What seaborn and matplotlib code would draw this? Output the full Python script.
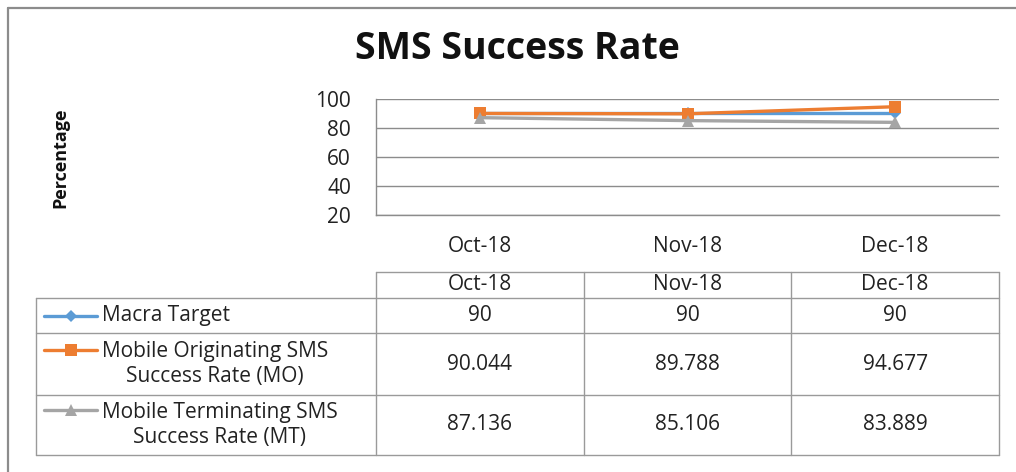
import matplotlib.pyplot as plt
import pandas as pd
import seaborn as sns


# =========================================================
# DATA
# =========================================================

months = ["Oct-18", "Nov-18", "Dec-18"]

series_names = [
    "Macra Target",
    "Mobile Originating SMS Success Rate (MO)",
    "Mobile Terminating SMS Success Rate (MT)",
]

row_labels = [
    "Macra Target",
    "Mobile Originating SMS\nSuccess Rate (MO)",
    "Mobile Terminating SMS\nSuccess Rate (MT)",
]

macra_target = [90, 90, 90]
mo_rate = [90.044, 89.788, 94.677]
mt_rate = [87.136, 85.106, 83.889]

table_text = [
    ["90", "90", "90"],
    ["90.044", "89.788", "94.677"],
    ["87.136", "85.106", "83.889"],
]

y_ticks = [20, 40, 60, 80, 100]


# =========================================================
# STYLE
# =========================================================

sns.set_style("white")
plt.rcParams["font.family"] = ["Open Sans", "DejaVu Sans"]

colors = ["#5B9BD5", "#ED7D31", "#A5A5A5"]
markers = ["D", "s", "^"]
marker_sizes = [6, 8, 8]
grid_color = "#8C8C8C"
text_color = "#222222"
body_size = 15

W, H = 1016, 472

df = pd.DataFrame({
    "month": months * 3,
    "value": macra_target + mo_rate + mt_rate,
    "series": [s for s in series_names for _ in months],
})


# =========================================================
# FIGURE
# =========================================================

fig = plt.figure(figsize=(W / 100, H / 100), dpi=100)

# overlay axes in pixel coordinates (frame + data table)
bg = fig.add_axes([0, 0, 1, 1])
bg.set_xlim(0, W)
bg.set_ylim(H, 0)
bg.axis("off")

# outer chart frame (only top/left visible in the crop)
bg.plot([8, W], [8, 8], color="#8C8C8C", lw=1.6)
bg.plot([8, 8], [8, H], color="#8C8C8C", lw=1.6)

# plot area
px0, px1, py0, py1 = 376, 999, 99, 215
ax = fig.add_axes([px0 / W, 1 - py1 / H, (px1 - px0) / W, (py1 - py0) / H])

for name, color, marker, ms in zip(series_names, colors, markers, marker_sizes):
    sns.lineplot(
        data=df[df["series"] == name],
        x="month",
        y="value",
        color=color,
        marker=marker,
        markersize=ms,
        markeredgewidth=0,
        linewidth=2.4,
        sort=False,
        ax=ax,
    )

ax.set_xlim(-0.5, len(months) - 0.5)
ax.set_ylim(20, 100)
ax.set_yticks(y_ticks)
ax.grid(axis="y", color=grid_color, linewidth=1)
ax.set_axisbelow(True)
for side in ["top", "right"]:
    ax.spines[side].set_visible(False)
for side in ["left", "bottom"]:
    ax.spines[side].set_color(grid_color)
    ax.spines[side].set_linewidth(1)
ax.tick_params(axis="y", length=0, pad=18, labelsize=body_size,
               labelcolor=text_color)
ax.tick_params(axis="x", length=0, pad=15, labelsize=body_size,
               labelcolor=text_color)
ax.set_xlabel("")
ax.set_ylabel("")

fig.text(517 / W, 1 - 49 / H, "SMS Success Rate", ha="center", va="center",
         fontsize=27, fontweight="bold", color="#111111")
fig.text(60 / W, 1 - 158 / H, "Percentage", ha="center", va="center",
         rotation=90, fontsize=13, fontweight="bold", color="#111111")


# =========================================================
# DATA TABLE
# =========================================================

tbl_left = 36
col_w = (px1 - px0) / len(months)
col_edges = [px0 + i * col_w for i in range(len(months) + 1)]
row_edges = [272, 298, 333, 395, 455]
line_kw = dict(color="#9A9A9A", lw=1)

bg.plot([px0, px1], [row_edges[0], row_edges[0]], **line_kw)
for y in row_edges[1:]:
    bg.plot([tbl_left, px1], [y, y], **line_kw)
for x in col_edges:
    bg.plot([x, x], [row_edges[0], row_edges[-1]], **line_kw)
bg.plot([tbl_left, tbl_left], [row_edges[1], row_edges[-1]], **line_kw)

for i, m in enumerate(months):
    cx = (col_edges[i] + col_edges[i + 1]) / 2
    bg.text(cx, (row_edges[0] + row_edges[1]) / 2, m, ha="center",
            va="center", fontsize=body_size, color=text_color)

key_y = [316, 350, 410]
for r, (label, vals) in enumerate(zip(row_labels, table_text)):
    cy = (row_edges[r + 1] + row_edges[r + 2]) / 2
    bg.plot([44, 97], [key_y[r], key_y[r]], color=colors[r], lw=2.4)
    bg.plot([70.5], [key_y[r]], marker=markers[r], color=colors[r],
            markersize=marker_sizes[r], markeredgewidth=0)
    bg.text(102, cy, label, ha="left", va="center", multialignment="center",
            fontsize=body_size, color=text_color, linespacing=1.25)
    for i, v in enumerate(vals):
        cx = (col_edges[i] + col_edges[i + 1]) / 2
        bg.text(cx, cy, v, ha="center", va="center", fontsize=body_size,
                color=text_color)

fig.savefig("out.png", dpi=100)
